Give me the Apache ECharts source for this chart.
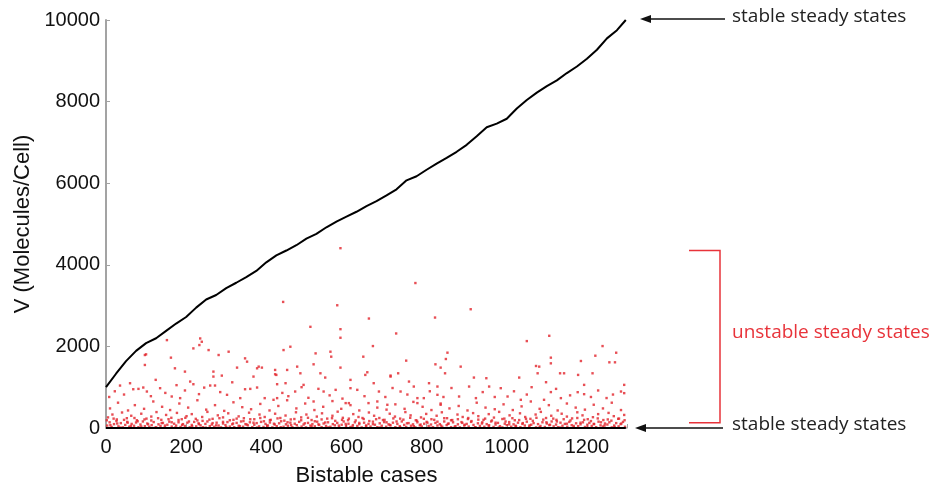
<!DOCTYPE html>
<html>
<head>
<meta charset="utf-8">
<script src="https://cdn.jsdelivr.net/npm/echarts@6/dist/echarts.min.js"></script>
<style>
html,body{margin:0;padding:0;background:#fff;}
#chart{width:932px;height:492px;}
</style>
</head>
<body>
<div id="chart"></div>
<script>
// ---- data ----
const xTicks = [0, 200, 400, 600, 800, 1000, 1200];
const yTicks = [0, 2000, 4000, 6000, 8000, 10000];

// upper stable steady states (cases, V)
const upperCases = [0,25,50,75,100,125,150,175,200,225,250,275,300,325,350,375,400,425,450,475,500,525,550,575,600,625,650,675,700,725,750,775,800,825,850,875,900,925,950,975,1000,1025,1050,1075,1100,1125,1150,1175,1200,1225,1250,1275,1297];
const upperV = [1000,1330,1640,1890,2080,2200,2380,2560,2720,2950,3150,3260,3430,3560,3700,3850,4060,4230,4350,4480,4640,4760,4920,5060,5180,5300,5440,5560,5700,5850,6070,6170,6330,6480,6620,6770,6940,7150,7370,7460,7580,7830,8040,8220,8380,8520,8700,8860,9050,9270,9550,9750,10000];

// lower stable steady states
const lowerCases = [0, 1297];
const lowerV = [0, 0];

// unstable steady states [case, V]
const unstableLow = [[3,60],[9,140],[14,25],[20,95],[26,170],[31,40],[37,120],[42,15],[48,75],[53,150],[58,30],[64,100],[70,55],[75,135],[81,20],[86,85],[92,160],[97,45],[103,110],[108,30],[114,70],[119,145],[125,20],[131,90],[136,50],[142,125],[147,15],[153,80],[158,155],[164,35],[170,105],[175,60],[181,140],[186,25],[192,95],[197,50],[203,130],[209,18],[214,75],[220,150],[225,40],[231,115],[236,65],[242,20],[248,100],[253,160],[259,45],[264,85],[270,30],[276,130],[281,60],[287,15],[292,110],[298,70],[303,145],[309,35],[315,90],[320,20],[326,125],[331,55],[337,160],[342,30],[348,95],[354,65],[359,140],[365,20],[370,80],[376,120],[382,40],[387,150],[393,25],[398,100],[404,60],[409,135],[415,15],[421,85],[426,45],[432,115],[437,165],[443,30],[449,90],[454,55],[460,130],[465,20],[471,105],[476,70],[482,150],[488,35],[493,85],[499,15],[504,125],[510,60],[515,95],[521,40],[527,155],[532,75],[538,20],[543,110],[549,50],[554,140],[560,30],[566,95],[571,65],[577,125],[582,15],[588,80],[593,160],[599,45],[605,105],[610,25],[616,70],[621,140],[627,50],[632,95],[638,15],[644,130],[649,60],[655,100],[660,35],[666,155],[671,80],[677,20],[683,115],[688,55],[694,145],[699,30],[705,90],[710,65],[716,130],[722,20],[727,100],[733,45],[738,160],[744,75],[749,25],[755,120],[761,55],[766,90],[772,15],[777,140],[783,65],[788,35],[794,105],[800,150],[805,50],[811,85],[816,20],[822,125],[827,60],[833,95],[839,30],[844,160],[850,70],[855,110],[861,20],[866,140],[872,45],[878,90],[883,15],[889,125],[894,60],[900,100],[905,35],[911,150],[917,75],[922,20],[928,115],[933,50],[939,140],[944,30],[950,95],[956,65],[961,160],[967,25],[972,85],[978,125],[983,45],[989,15],[995,105],[1000,70],[1006,145],[1011,30],[1017,90],[1022,55],[1028,130],[1034,20],[1039,100],[1045,60],[1050,155],[1056,35],[1061,80],[1067,120],[1073,15],[1078,95],[1084,50],[1089,140],[1095,25],[1100,110],[1106,70],[1112,160],[1117,40],[1123,85],[1128,20],[1134,130],[1139,55],[1145,100],[1151,30],[1156,150],[1162,70],[1167,15],[1173,115],[1178,45],[1184,90],[1190,140],[1195,25],[1201,80],[1206,125],[1212,50],[1217,100],[1223,20],[1229,155],[1234,65],[1240,35],[1245,110],[1251,85],[1256,140],[1262,15],[1268,60],[1273,120],[1279,40],[1284,95],[1290,150],[1295,30]];

const unstableLow2 = [[2,190],[11,70],[19,230],[28,110],[36,10],[45,200],[54,130],[62,50],[71,245],[79,165],[88,35],[96,210],[105,90],[113,185],[122,5],[130,240],[139,120],[147,60],[156,215],[164,140],[173,10],[181,195],[190,75],[198,250],[207,160],[215,40],[224,225],[232,95],[241,175],[249,8],[258,205],[266,120],[275,65],[283,240],[292,150],[300,25],[309,190],[317,110],[326,230],[334,45],[343,170],[351,85],[360,215],[368,130],[377,10],[385,245],[394,165],[402,55],[411,200],[419,105],[428,235],[436,20],[445,180],[453,140],[462,70],[470,220],[479,5],[487,190],[496,115],[504,250],[513,40],[521,165],[530,90],[538,210],[547,135],[555,15],[564,240],[572,175],[581,60],[589,200],[598,100],[606,230],[615,30],[623,185],[632,125],[640,245],[649,50],[657,170],[666,95],[674,215],[683,10],[691,195],[700,140],[708,75],[717,235],[725,160],[734,20],[742,205],[751,115],[759,250],[768,45],[776,180],[785,85],[793,225],[802,130],[810,5],[819,200],[827,155],[836,60],[844,240],[853,100],[861,190],[870,30],[878,215],[887,145],[895,80],[904,245],[912,170],[921,15],[929,205],[938,110],[946,230],[955,55],[963,185],[972,130],[980,10],[989,220],[997,160],[1006,90],[1014,240],[1023,40],[1031,195],[1040,120],[1048,225],[1057,65],[1065,175],[1074,250],[1082,20],[1091,205],[1099,140],[1108,80],[1116,230],[1125,160],[1133,10],[1142,215],[1150,105],[1159,185],[1167,50],[1176,245],[1184,130],[1193,200],[1201,15],[1210,170],[1218,95],[1227,235],[1235,140],[1244,60],[1252,210],[1261,180],[1269,25],[1278,225],[1286,110],[1294,190]];

const unstableMid = [[5,260],[16,330],[27,210],[40,380],[52,240],[63,300],[77,190],[88,350],[101,230],[113,280],[126,390],[138,200],[150,320],[163,250],[177,370],[189,215],[201,290],[214,340],[228,185],[240,270],[253,395],[266,225],[279,310],[292,260],[305,360],[318,200],[331,285],[344,240],[357,375],[370,215],[383,330],[396,270],[409,190],[422,350],[435,245],[448,305],[461,210],[474,385],[487,260],[500,330],[513,195],[526,280],[539,360],[552,230],[565,300],[578,400],[591,250],[604,190],[617,340],[630,270],[643,220],[656,380],[669,300],[682,245],[695,200],[708,350],[721,280],[734,230],[747,390],[760,310],[773,190],[786,260],[799,345],[812,215],[825,300],[838,385],[851,240],[864,195],[877,330],[890,270],[903,220],[916,365],[929,290],[942,200],[955,340],[968,255],[981,395],[994,230],[1007,310],[1020,190],[1033,360],[1046,270],[1059,225],[1072,330],[1085,395],[1098,245],[1111,300],[1124,200],[1137,350],[1150,280],[1163,235],[1176,385],[1189,310],[1202,215],[1215,265],[1228,340],[1241,195],[1254,370],[1267,290],[1280,230],[1293,320],
[10,480],[30,620],[55,430],[72,560],[95,470],[118,650],[140,520],[160,440],[183,600],[205,500],[228,680],[250,450],[272,560],[295,420],[318,630],[340,510],[362,460],[385,590],[408,430],[430,540],[452,680],[475,480],[497,600],[520,440],[542,520],[565,660],[587,470],[610,560],[632,430],[655,610],[677,500],[700,450],[722,580],[745,470],[767,640],[790,520],[812,440],[835,600],[857,480],[880,540],[902,430],[925,620],[947,500],[970,460],[992,580],[1015,440],[1037,530],[1060,650],[1082,470],[1105,560],[1127,430],[1150,600],[1172,500],[1195,450],[1217,570],[1240,480],[1262,620],[1285,440]];

const unstableHigh = [[8,760],[22,900],[35,1040],[45,820],[60,1097],[68,950],[81,959],[93,992],[102,894],[112,780],[124,1180],[135,976],[148,860],[164,772],[176,1050],[185,732],[197,920],[210,1138],[218,1073],[232,830],[245,990],[260,1041],[272,1041],[285,880],[302,813],[315,1120],[335,732],[347,950],[360,959],[377,992],[396,732],[418,691],[427,1073],[440,860],[455,780],[472,894],[488,1000],[505,740],[530,960],[543,894],[558,800],[573,935],[590,720],[610,976],[627,935],[645,780],[668,1098],[681,894],[697,760],[715,980],[735,894],[752,820],[777,732],[793,732],[808,900],[827,813],[842,760],[862,980],[881,772],[906,1016],[923,732],[940,880],[956,1016],[970,760],[985,976],[1002,772],[1018,900],[1035,691],[1050,820],[1062,1000],[1093,691],[1110,880],[1123,959],[1135,732],[1158,800],[1177,878],[1193,829],[1210,760],[1228,920],[1249,734],[1265,820],[1285,894],[1293,854],
[442,3090],[585,4407],[772,3553],[577,3008],[656,2683],[821,2707],[510,2480],[585,2422],[585,2212],[724,2317],[443,1910],[460,1992],[523,1829],[560,1870],[562,1748],[642,1748],[666,2008],[749,1651],[852,1846],[848,1691],[518,1561],[585,1480],[652,1366],[710,1285],[729,1341],[822,1561],[835,1480],[846,1341],[425,1301],[452,1423],[485,1341],
[239,2114],[233,2033],[256,1910],[152,2154],[162,1724],[218,1951],[306,1870],[281,1789],[97,1789],[347,1707],[352,1626],[97,1545],[172,1463],[327,1480],[377,1463],[389,1480],[268,1260],[289,1284],[100,1805],[235,2195],[197,1382],[268,1382],[368,1260],[381,1504],
[910,2911],[1050,2130],[1106,2260],[1239,2008],[1273,1845],[1110,1724],[1110,1585],[1221,1772],[1185,1642],[1256,1610],[1270,1610],[1073,1520],[1081,1504],[885,1504],[1077,1341],[1133,1341],[1143,1341],[1178,1301],[1214,1341],[918,1236],[949,1220],[1031,1236],[1098,1122],[1193,1057],[1293,1057],
[422,1423],[422,1317],[477,1504],[535,1341],[547,1236],[610,1179],[647,1301],[710,1260],[756,1138],[768,1016],[806,1098],[827,1016],[448,1098],[493,1057],[598,610],[606,610],[677,650],[702,569],[777,610],[835,569],[427,732],[518,650]];

// annotation texts
const stableLabel = 'stable steady states';
const unstableLabel = 'unstable steady states';
const bracketTopV = 4350;
const bracketBottomV = 80;

// ---- chart ----
const chart = echarts.init(document.getElementById('chart'), null, {renderer: 'canvas'});
const axisFont = '"Liberation Sans", Arial, Helvetica, sans-serif';
const annFont = '"Open Sans", "Noto Sans", sans-serif';
const grey = '#a3a3a3';

const option = {
  backgroundColor: '#ffffff',
  animation: false,
  grid: {left: 106, right: 305, top: 20, bottom: 62, containLabel: false},
  xAxis: {
    type: 'value', min: 0, max: 1300, interval: 200, offset: 3,
    name: 'Bistable cases', nameLocation: 'middle', nameGap: 34,
    nameTextStyle: {fontFamily: axisFont, fontSize: 22, color: '#111'},
    axisLine: {show: true, lineStyle: {color: grey, width: 1.5}},
    axisTick: {show: true, inside: true, length: 4, lineStyle: {color: grey}},
    axisLabel: {fontFamily: axisFont, fontSize: 20, color: '#111', margin: 6,
      formatter: v => xTicks.indexOf(v) >= 0 ? String(v) : ''},
    splitLine: {show: false}
  },
  yAxis: {
    type: 'value', min: 0, max: 10000, interval: 2000,
    name: 'V (Molecules/Cell)', nameLocation: 'middle', nameGap: 68, nameRotate: 90,
    nameTextStyle: {fontFamily: axisFont, fontSize: 22, color: '#111'},
    axisLine: {show: true, lineStyle: {color: grey, width: 2}},
    axisTick: {show: true, inside: true, length: 4, lineStyle: {color: grey}},
    axisLabel: {fontFamily: axisFont, fontSize: 20, color: '#111', margin: 6,
      formatter: v => yTicks.indexOf(v) >= 0 ? String(v) : ''},
    splitLine: {show: false}
  },
  series: [
    {type: 'scatter', data: unstableLow.concat(unstableLow2, unstableMid, unstableHigh), symbol: 'rect', symbolSize: 2.4,
      itemStyle: {color: '#e2232a'}, z: 2, silent: true},
    {type: 'line', data: upperCases.map((c, i) => [c, upperV[i]]), showSymbol: false,
      lineStyle: {color: '#000', width: 2}, z: 3, silent: true},
    {type: 'line', data: lowerCases.map((c, i) => [c, lowerV[i]]), showSymbol: false,
      lineStyle: {color: '#000', width: 2}, z: 3, silent: true}
  ]
};
chart.setOption(option);

// annotations positioned from the axis scales
const yTop = chart.convertToPixel({gridIndex: 0}, [0, 10000])[1] - 1;
const yBot = chart.convertToPixel({gridIndex: 0}, [0, 0])[1];
const yBrT = chart.convertToPixel({gridIndex: 0}, [0, bracketTopV])[1];
const yBrB = chart.convertToPixel({gridIndex: 0}, [0, bracketBottomV])[1] - 2;
const red = '#e8333a';
function arrow(y, x0, x1) {
  return [
    {type: 'line', shape: {x1: x0 + 7, y1: y, x2: x1, y2: y}, style: {stroke: '#111', lineWidth: 1.3}},
    {type: 'polygon', shape: {points: [[x0, y], [x0 + 11, y - 4], [x0 + 11, y + 4]]}, style: {fill: '#111'}}
  ];
}
chart.setOption({
  graphic: [
    ...arrow(yTop, 640, 725),
    ...arrow(yBot, 635, 723),
    {type: 'text', left: 732, top: yTop - 12, style: {text: stableLabel, font: '19px ' + annFont, fill: '#222'}},
    {type: 'text', left: 732, top: yBot - 13, style: {text: stableLabel, font: '19px ' + annFont, fill: '#222'}},
    {type: 'polyline', shape: {points: [[689, yBrT], [720, yBrT], [720, yBrB], [689, yBrB]]},
      style: {stroke: red, lineWidth: 1.5, fill: null}},
    {type: 'text', left: 732, top: (yBrT + yBrB) / 2 - 14, style: {text: unstableLabel, font: '19px ' + annFont, fill: red}}
  ]
});
</script>
</body>
</html>
